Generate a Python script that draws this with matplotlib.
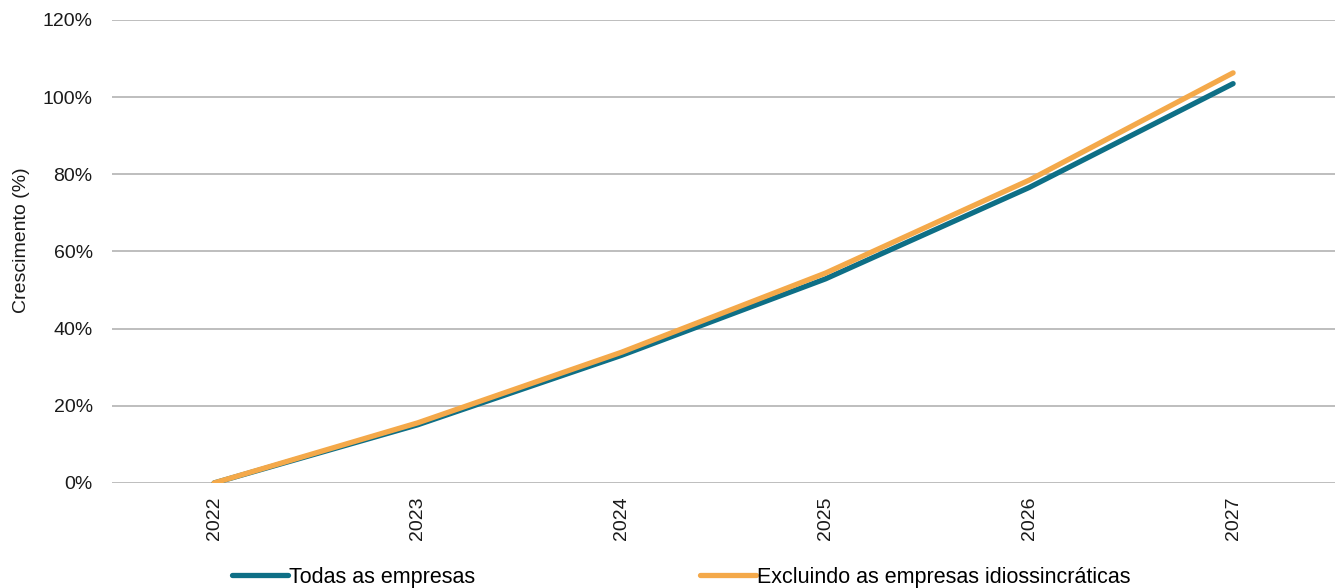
import matplotlib
matplotlib.use("Agg")
import matplotlib.pyplot as plt
from matplotlib.ticker import PercentFormatter

plt.rcParams['font.family'] = ['Liberation Sans', 'DejaVu Sans']

years = ["2022", "2023", "2024", "2025", "2026", "2027"]
todas = [0.0, 15.1, 33.1, 52.9, 76.6, 103.5]
excluindo = [0.0, 15.6, 33.9, 54.4, 78.5, 106.3]
yticks = [0, 20, 40, 60, 80, 100, 120]

teal = "#0e6f86"
orange = "#f4a94a"

fig = plt.figure(figsize=(13.35, 5.88), dpi=100)
ax = fig.add_axes([0.084, 0.1786, 0.916, 0.7874])

x = range(len(years))
ax.plot(x, todas, color=teal, lw=3.8, solid_capstyle="round", label="Todas as empresas", zorder=3)
ax.plot(x, excluindo, color=orange, lw=3.8, solid_capstyle="round",
        label="Excluindo as empresas idiossincráticas", zorder=4)

ax.set_xlim(-0.5, len(years) - 0.5)
ax.set_ylim(0, 120)
ax.set_yticks(yticks)
ax.yaxis.set_major_formatter(PercentFormatter(decimals=0))
ax.set_xticks(list(x))
ax.set_xticklabels(years, rotation=90)
ax.tick_params(axis="both", length=0, labelsize=14, colors="#1a1a1a")
ax.tick_params(axis="y", pad=14)
ax.tick_params(axis="x", pad=10)
ax.grid(axis="y", color="#b3b3b3", lw=1.2)
ax.set_axisbelow(True)
for s in ax.spines.values():
    s.set_visible(False)
ax.set_ylabel("Crescimento (%)", fontsize=14, color="#1a1a1a")
ax.yaxis.set_label_coords(-0.067, 0.525)

fig.legend(loc="lower left", bbox_to_anchor=(0.159, -0.033), ncol=2, frameon=False,
           fontsize=15.5, handlelength=2.6, handletextpad=0.05, columnspacing=10.45)

fig.savefig("out.png", dpi=100)
